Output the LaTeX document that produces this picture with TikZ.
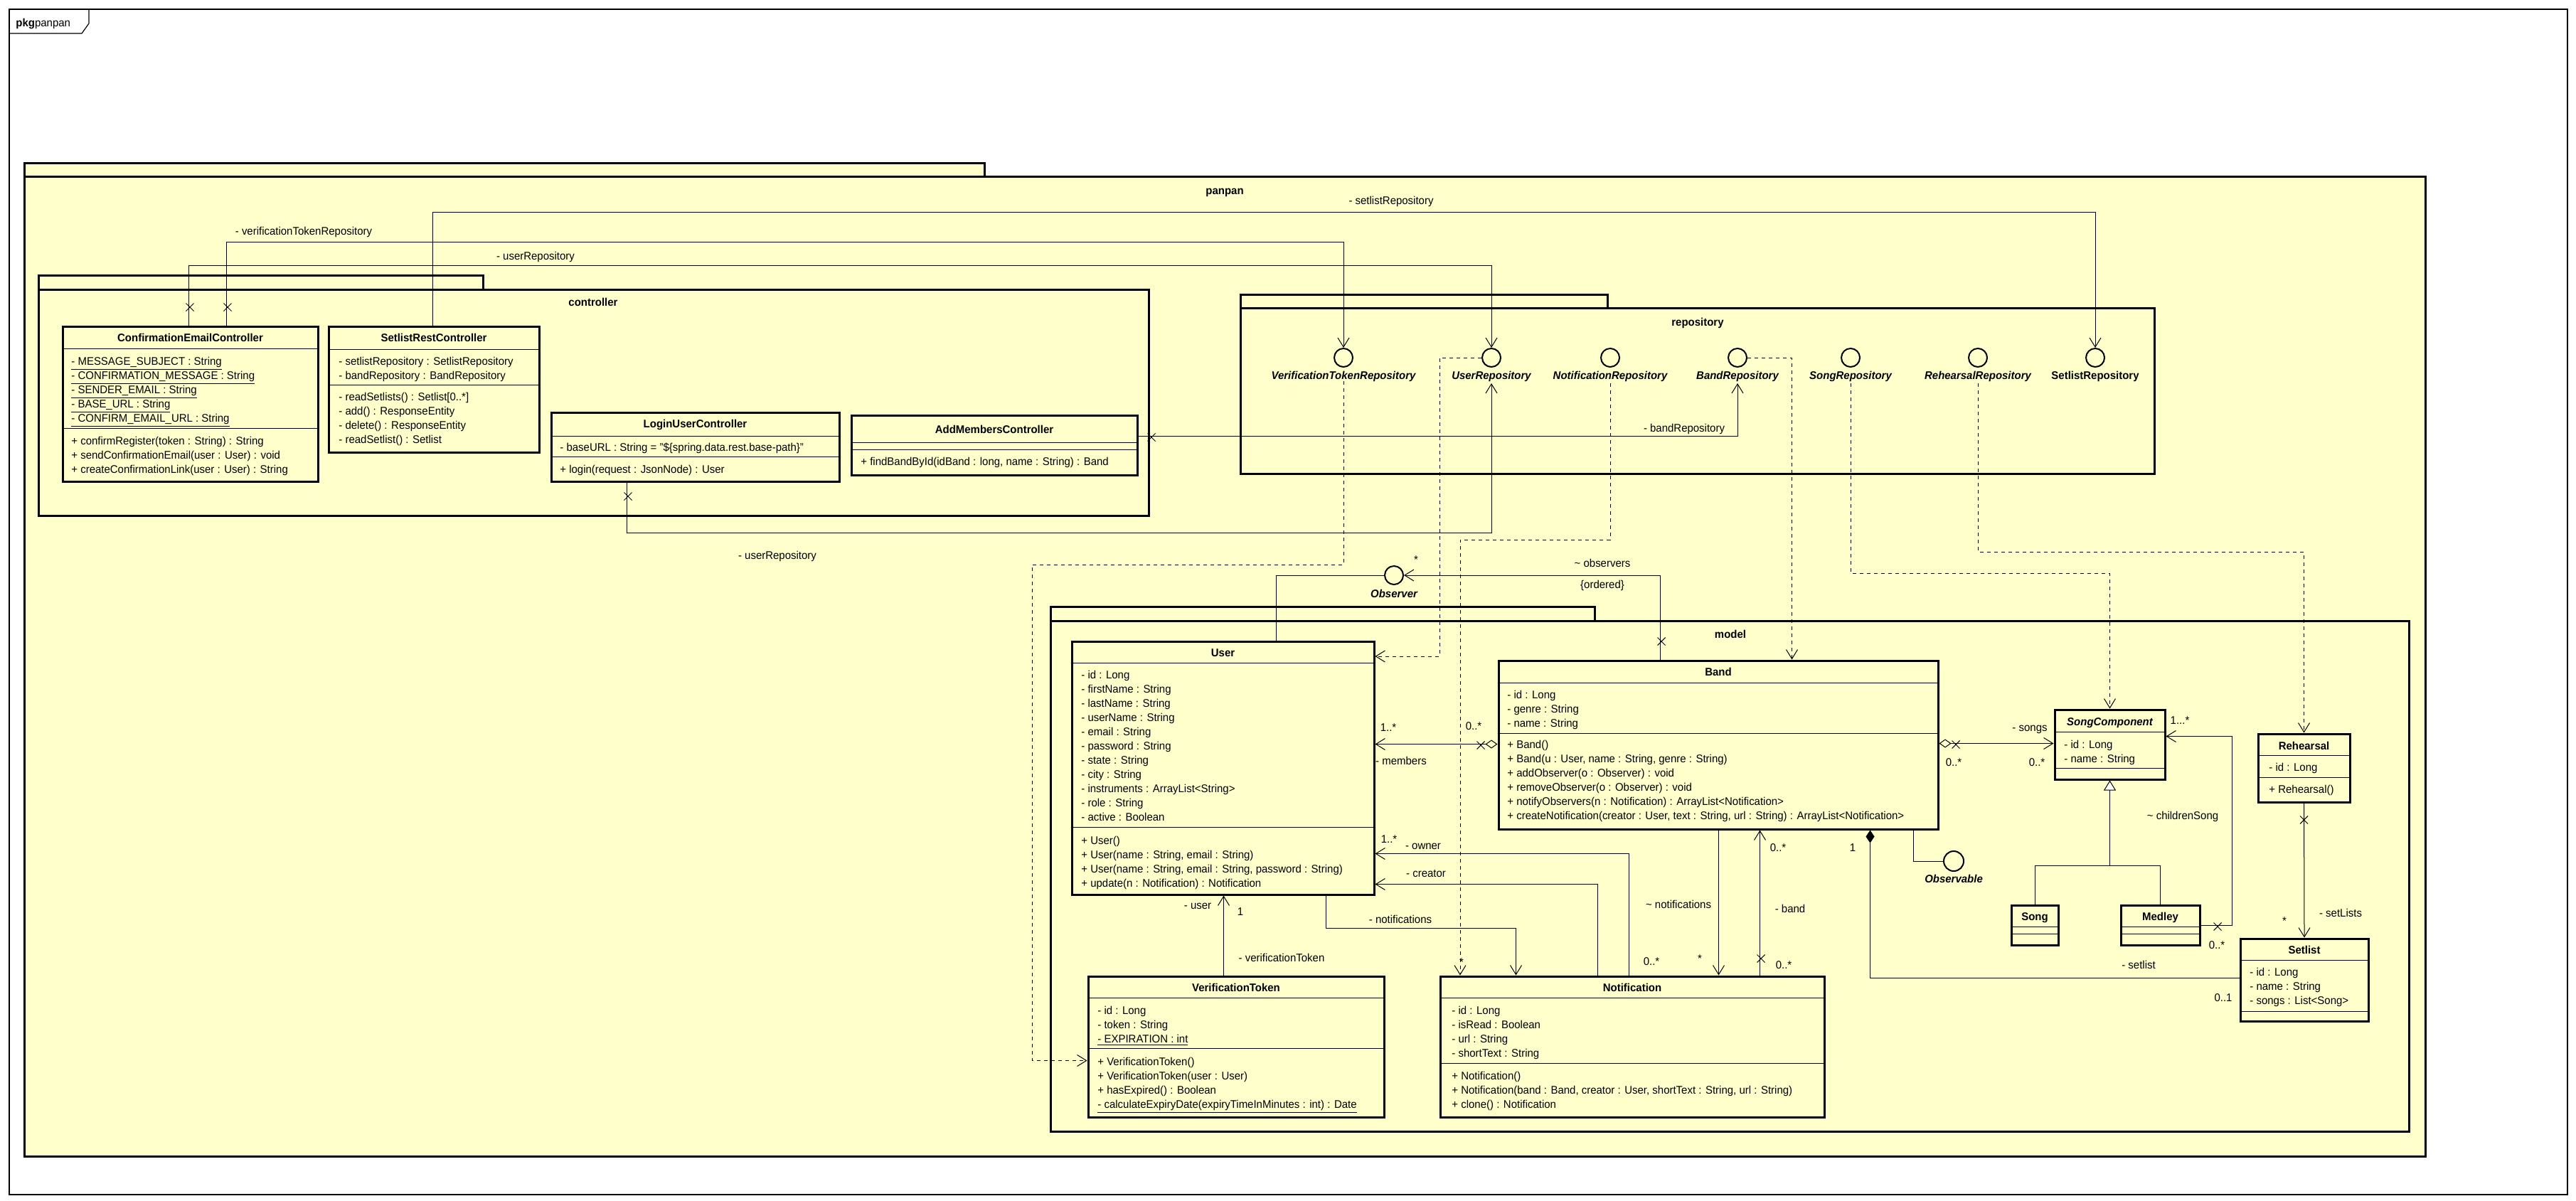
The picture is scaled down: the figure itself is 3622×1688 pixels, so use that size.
\documentclass[tikz,border=0pt]{standalone}
\usepackage{fontspec}
\setmainfont{Liberation Sans}[FakeStretch=0.96]
\usetikzlibrary{arrows.meta,calc,fit,shapes.misc}
\definecolor{pk}{HTML}{FFFFCC}
\newcommand\umllines[4]{\foreach \umlitem [count=\i from 0] in {#4} {\node[txt] (#1-\i) at (#2,#3+20*\i) {\umlitem};}}
\newcommand\umlpkg[7]{\draw[pkgline] (#2,#3) rectangle (#4,#5); \node[pkgbody, fit={(#2,#5) (#6,#7)}] (#1) {};}
\newcommand\umlsep[2]{\draw[sepline] (#1.west |- 0,#2) -- (#1.east |- 0,#2);}
\begin{document}
\begin{tikzpicture}[x=0.5pt,y=-0.5pt,
  every node/.style={font=\fontsize{7.8}{10}\selectfont},
  txt/.style={inner sep=0,anchor=base west},
  ttl/.style={inner sep=0,anchor=base,font=\fontsize{7.8}{10}\selectfont\bfseries},
  ittl/.style={inner sep=0,anchor=base,font=\fontsize{7.8}{10}\selectfont\bfseries\itshape},
  lbl/.style={inner sep=0,anchor=base},
  clsbox/.style={draw,line width=1.5pt,fill=pk,inner sep=0},
  pkgline/.style={draw,line width=1.5pt,fill=pk},
  pkgbody/.style={draw,line width=1.5pt,fill=pk,inner sep=0},
  sepline/.style={line width=0.5pt},
  assoc/.style={line width=0.5pt},
  nav/.style={-{Straight Barb[length=6.5pt,width=8pt]}},
  dep/.style={line width=0.5pt,dash pattern=on 2.5pt off 2.5pt,-{Straight Barb[length=6.5pt,width=8pt]}},
  xm/.style={draw,cross out,minimum size=5pt,inner sep=0,line width=0.5pt},
  iface/.style={draw,circle,line width=1pt,minimum size=13pt,inner sep=0,fill=pk},
]
\useasboundingbox (0,0) rectangle (3622,1688);
\fill[white] (0,0) rectangle (3622,1688);
% outer frame
\node[draw,line width=0.6pt,inner sep=0,fit={(13,13) (3610,1680)}] (frame) {};
\draw[line width=0.6pt] (13,47) -- (115,47) -- (125,33) -- (125,13);
\node[txt] (pkgname) at (22,37) {\textbf{pkg}panpan};
% packages
\umlpkg{panpan}{34}{229}{1384}{248}{3410}{1626}
\node[ttl] (panpan-l) at (1722,273) {panpan};
\umlpkg{controller}{54}{387}{679}{407}{1615}{725}
\node[ttl] (controller-l) at (834,430) {controller};
\umlpkg{repository}{1744}{414}{2260}{433}{3029}{666}
\node[ttl] (repository-l) at (2387,458) {repository};
\umlpkg{model}{1477}{853}{2242}{873}{3387}{1591}
\node[ttl] (model-l) at (2433,897) {model};
% ConfirmationEmailController
\node[clsbox,fit={(88,459) (447,677)}] (cec) {};
\umlsep{cec}{490}\umlsep{cec}{602}
\node[ttl] (cec-t) at (267.5,480) {ConfirmationEmailController};
\umllines{cec-a}{100}{513}{{\underline{- MESSAGE\_SUBJECT : String}},{\underline{- CONFIRMATION\_MESSAGE : String}},{\underline{- SENDER\_EMAIL : String}},{\underline{- BASE\_URL : String}},{\underline{- CONFIRM\_EMAIL\_URL : String}}}
\umllines{cec-m}{100}{625}{{+ confirmRegister(token : String) : String},{+ sendConfirmationEmail(user : User) : void},{+ createConfirmationLink(user : User) : String}}
% SetlistRestController
\node[clsbox,fit={(462,459) (758,636)}] (src) {};
\umlsep{src}{491}\umlsep{src}{541}
\node[ttl] (src-t) at (610,480) {SetlistRestController};
\umllines{src-a}{476}{513}{{- setlistRepository : SetlistRepository},{- bandRepository : BandRepository}}
\umllines{src-m}{476}{563}{{- readSetlists() : Setlist[0..*]},{- add() : ResponseEntity},{- delete() : ResponseEntity},{- readSetlist() : Setlist}}
% LoginUserController
\node[clsbox,fit={(775,580) (1180,677)}] (luc) {};
\umlsep{luc}{613}\umlsep{luc}{642}
\node[ttl] (luc-t) at (977.5,601) {LoginUserController};
\node[txt] (luc-a) at (787,634) {- baseURL : String = "\$\{spring.data.rest.base-path\}"};
\node[txt] (luc-m) at (787,665) {+ login(request : JsonNode) : User};
% AddMembersController
\node[clsbox,fit={(1197,584) (1599,668)}] (amc) {};
\umlsep{amc}{622}\umlsep{amc}{632}
\node[ttl] (amc-t) at (1398,609) {AddMembersController};
\node[txt] (amc-m) at (1210,654) {+ findBandById(idBand : long, name : String) : Band};
% repositories
\node[iface] (vtr) at (1889,503) {}; \node[ittl] (vtr-l) at (1889,533) {VerificationTokenRepository};
\node[iface] (ur) at (2097,503) {}; \node[ittl] (ur-l) at (2097,533) {UserRepository};
\node[iface] (nr) at (2264,503) {}; \node[ittl] (nr-l) at (2264,533) {NotificationRepository};
\node[iface] (br) at (2443,503) {}; \node[ittl] (br-l) at (2443,533) {BandRepository};
\node[iface] (songr) at (2602,503) {}; \node[ittl] (songr-l) at (2602,533) {SongRepository};
\node[iface] (rr) at (2781,503) {}; \node[ittl] (rr-l) at (2781,533) {RehearsalRepository};
\node[iface] (sr) at (2946,503) {}; \node[ttl] (sr-l) at (2946,533) {SetlistRepository};
% User
\node[clsbox,fit={(1507,902) (1932,1258)}] (user) {};
\umlsep{user}{932}\umlsep{user}{1163}
\node[ttl] (user-t) at (1719.5,923) {User};
\umllines{user-a}{1520}{954}{{- id : Long},{- firstName : String},{- lastName : String},{- userName : String},{- email : String},{- password : String},{- state : String},{- city : String},{- instruments : ArrayList<String>},{- role : String},{- active : Boolean}}
\umllines{user-m}{1520}{1187}{{+ User()},{+ User(name : String, email : String)},{+ User(name : String, email : String, password : String)},{+ update(n : Notification) : Notification}}
% Band
\node[clsbox,fit={(2107,929) (2725,1166)}] (band) {};
\umlsep{band}{960}\umlsep{band}{1031}
\node[ttl] (band-t) at (2416,950) {Band};
\umllines{band-a}{2119}{982}{{- id : Long},{- genre : String},{- name : String}}
\umllines{band-m}{2119}{1052}{{+ Band()},{+ Band(u : User, name : String, genre : String)},{+ addObserver(o : Observer) : void},{+ removeObserver(o : Observer) : void},{+ notifyObservers(n : Notification) : ArrayList<Notification>},{+ createNotification(creator : User, text : String, url : String) : ArrayList<Notification>}}
% SongComponent
\node[clsbox,fit={(2889,998) (3044,1096)}] (sc) {};
\umlsep{sc}{1029}\umlsep{sc}{1080}
\node[ittl] (sc-t) at (2966.5,1020) {SongComponent};
\umllines{sc-a}{2902}{1052}{{- id : Long},{- name : String}}
% Rehearsal
\node[clsbox,fit={(3175,1032) (3304,1128)}] (reh) {};
\umlsep{reh}{1062}\umlsep{reh}{1093}
\node[ttl] (reh-t) at (3239.5,1054) {Rehearsal};
\node[txt] (reh-a) at (3190,1084) {- id : Long};
\node[txt] (reh-m) at (3190,1115) {+ Rehearsal()};
% Song, Medley
\node[clsbox,fit={(2828,1273) (2894,1329)}] (song) {};
\umlsep{song}{1303}\umlsep{song}{1313}
\node[ttl] (song-t) at (2861,1294) {Song};
\node[clsbox,fit={(2982,1273) (3093,1329)}] (medley) {};
\umlsep{medley}{1303}\umlsep{medley}{1313}
\node[ttl] (medley-t) at (3037.5,1294) {Medley};
% Setlist
\node[clsbox,fit={(3150,1320) (3330,1436)}] (setlist) {};
\umlsep{setlist}{1350}\umlsep{setlist}{1422}
\node[ttl] (setlist-t) at (3240,1341) {Setlist};
\umllines{setlist-a}{3163}{1372}{{- id : Long},{- name : String},{- songs : List<Song>}}
% VerificationToken
\node[clsbox,fit={(1530,1373) (1946,1571)}] (vt) {};
\umlsep{vt}{1403}\umlsep{vt}{1474}
\node[ttl] (vt-t) at (1738,1394) {VerificationToken};
\umllines{vt-a}{1543}{1426}{{- id : Long},{- token : String},{\underline{- EXPIRATION : int}}}
\umllines{vt-m}{1543}{1498}{{+ VerificationToken()},{+ VerificationToken(user : User)},{+ hasExpired() : Boolean},{\underline{- calculateExpiryDate(expiryTimeInMinutes : int) : Date}}}
% Notification
\node[clsbox,fit={(2025,1373) (2565,1571)}] (notif) {};
\umlsep{notif}{1403}\umlsep{notif}{1495}
\node[ttl] (notif-t) at (2295,1394) {Notification};
\umllines{notif-a}{2041}{1426}{{- id : Long},{- isRead : Boolean},{- url : String},{- shortText : String}}
\umllines{notif-m}{2041}{1518}{{+ Notification()},{+ Notification(band : Band, creator : User, shortText : String, url : String)},{+ clone() : Notification}}
% Observer, Observable
\node[iface] (obs) at (1960,809) {}; \node[ittl] (obs-l) at (1960,840) {Observer};
\node[iface,minimum size=14pt] (obsv) at (2747,1211) {}; \node[ittl] (obsv-l) at (2747,1241) {Observable};
% ---------- connectors
\draw[assoc,nav] ($(cec.north west)+(232,0)$) |- (vtr.north |- 0,340) -- (vtr.north);
\draw[assoc,nav] ($(cec.north west)+(179,0)$) |- (ur.north |- 0,373) -- (ur.north);
\draw[assoc,nav] ($(src.north west)+(148,0)$) |- (sr.north |- 0,298) -- (sr.north);
\draw[assoc,nav] ($(luc.south west)+(108,0)$) |- (ur.south |- 0,749) -- ($(ur.center)+(0,36)$);
\draw[assoc,nav] ($(amc.north east)+(0,31)$) -| ($(br.center)+(0,36)$);
\node[xm] (x-cec1) at (267,432) {};
\node[xm] (x-cec2) at (320,432) {};
\node[xm] (x-luc) at (883,698) {};
\node[xm] (x-amc) at (1619,615) {};
% dependencies
\coordinate (b-vt) at (1451,794);
\draw[dep] ($(vtr.center)+(0,33)$) |- (b-vt) |- ($(vt.north west)+(0,120)$);
\coordinate (b-ur) at (2024,923);
\draw[dep] (ur.west) -| (b-ur) -- (b-ur -| user.east);
\coordinate (b-nr) at (2053,759);
\draw[dep] ($(nr.center)+(0,36)$) |- (b-nr) -- (b-nr |- notif.north);
\draw[dep] (br.east) -| ($(band.north west)+(414,0)$);
\draw[dep] ($(songr.center)+(0,36)$) |- (sc.north |- 0,806) -- (sc.north);
\draw[dep] ($(rr.center)+(0,36)$) |- (reh.north |- 0,776) -- (reh.north);
% observer
\draw[assoc] ($(user.north west)+(289,0)$) |- (obs.west);
\draw[assoc,nav] ($(band.north west)+(229,0)$) |- (obs.east);
\node[xm] (x-obs) at (2336,902) {};
% members
\draw[assoc,{Diamond[open,length=8.5pt,width=6pt]}-{Straight Barb[length=6.5pt,width=8pt]}] ($(band.north west)+(0,119)$) -- ($(user.north east)+(0,146)$);
\node[xm] (x-mem) at (2082,1048) {};
% songs
\draw[assoc,{Diamond[open,length=8.5pt,width=6pt]}-{Straight Barb[length=6.5pt,width=8pt]}] ($(band.north east)+(0,118)$) -- ($(sc.north west)+(0,49)$);
\node[xm] (x-songs) at (2750,1047) {};
% generalization
\coordinate (g) at ($(sc.south)+(0,120)$);
\draw[assoc] (song.north) |- (g) -| (medley.north);
\draw[assoc,-{Triangle[length=7pt,width=8.5pt,fill=white]}] (g) -- (sc.south);
% childrenSong
\draw[assoc,nav] ($(medley.north east)+(0,30)$) -| ($(sc.north east)+(93,39)$) -- ($(sc.north east)+(0,39)$);
\node[xm] (x-ch) at (3118,1303) {};
% observable
\draw[assoc] ($(band.south west)+(585,0)$) |- (obsv.west);
% composition
\draw[assoc,{Diamond[length=9pt,width=6pt]}-] ($(band.south west)+(524,0)$) |- ($(setlist.north west)+(0,57)$);
% rehearsal-setlist
\draw[assoc,nav] (reh.south) -- (setlist.north);
\node[xm] (x-reh) at (3239.5,1153) {};
% band - notification
\coordinate (bn1) at ($(band.south west)+(311,0)$);
\draw[assoc,nav] (bn1) -- (bn1 |- notif.north);
\coordinate (bn2) at ($(band.south west)+(369,0)$);
\draw[assoc,nav] (bn2 |- notif.north) -- (bn2);
\node[xm] (x-band) at (2476,1348) {};
% owner, creator, notifications
\draw[assoc,nav] ($(notif.north west)+(267,0)$) |- ($(user.north east)+(0,300)$);
\draw[assoc,nav] ($(notif.north west)+(223,0)$) |- ($(user.north east)+(0,343)$);
\draw[assoc,nav] ($(user.south west)+(359,0)$) |- ($(notif.north west)+(108,-66)$) -- ($(notif.north west)+(108,0)$);
% verification token - user
\coordinate (vu) at ($(vt.north west)+(192,0)$);
\draw[assoc,nav] (vu) -- (vu |- user.south);
% ---------- labels
\node[lbl] (l01) at (427,330) {- verificationTokenRepository};
\node[lbl] (l02) at (753,365) {- userRepository};
\node[lbl] (l03) at (1956,287) {- setlistRepository};
\node[lbl] (l04) at (2368,607) {- bandRepository};
\node[lbl] (l05) at (1093,786) {- userRepository};
\node[lbl] (l06) at (2253,797) {\textasciitilde{} observers};
\node[lbl] (l07) at (2253,827) {\{ordered\}};
\node[lbl] (l08) at (1991,792) {*};
\node[lbl] (l09) at (1952,1028) {1..*};
\node[lbl] (l10) at (2072,1026) {0..*};
\node[lbl] (l11) at (1970,1075) {- members};
\node[lbl] (l12) at (2854,1028) {- songs};
\node[lbl] (l13) at (2747,1077) {0..*};
\node[lbl] (l14) at (2864,1077) {0..*};
\node[lbl] (l15) at (3065,1018) {1...*};
\node[lbl] (l16) at (3069,1152) {\textasciitilde{} childrenSong};
\node[lbl] (l17) at (3117,1334) {0..*};
\node[lbl] (l18) at (3291,1289) {- setLists};
\node[lbl] (l19) at (3212,1300) {*};
\node[lbl] (l20) at (3007,1362) {- setlist};
\node[lbl] (l21) at (3126,1408) {0..1};
\node[lbl] (l22) at (2605,1197) {1};
\node[lbl] (l23) at (1953,1185) {1..*};
\node[lbl] (l24) at (2001,1194) {- owner};
\node[lbl] (l25) at (2005,1233) {- creator};
\node[lbl] (l26) at (1969,1298) {- notifications};
\node[lbl] (l27) at (2322,1357) {0..*};
\node[lbl] (l28) at (2055,1358) {*};
\node[lbl] (l29) at (2360,1277) {\textasciitilde{} notifications};
\node[lbl] (l30) at (2390,1353) {*};
\node[lbl] (l31) at (2517,1283) {- band};
\node[lbl] (l32) at (2500,1197) {0..*};
\node[lbl] (l33) at (2508,1362) {0..*};
\node[lbl] (l34) at (1684,1278) {- user};
\node[lbl] (l35) at (1744,1287) {1};
\node[lbl] (l36) at (1802,1352) {- verificationToken};
\end{tikzpicture}
\end{document}
